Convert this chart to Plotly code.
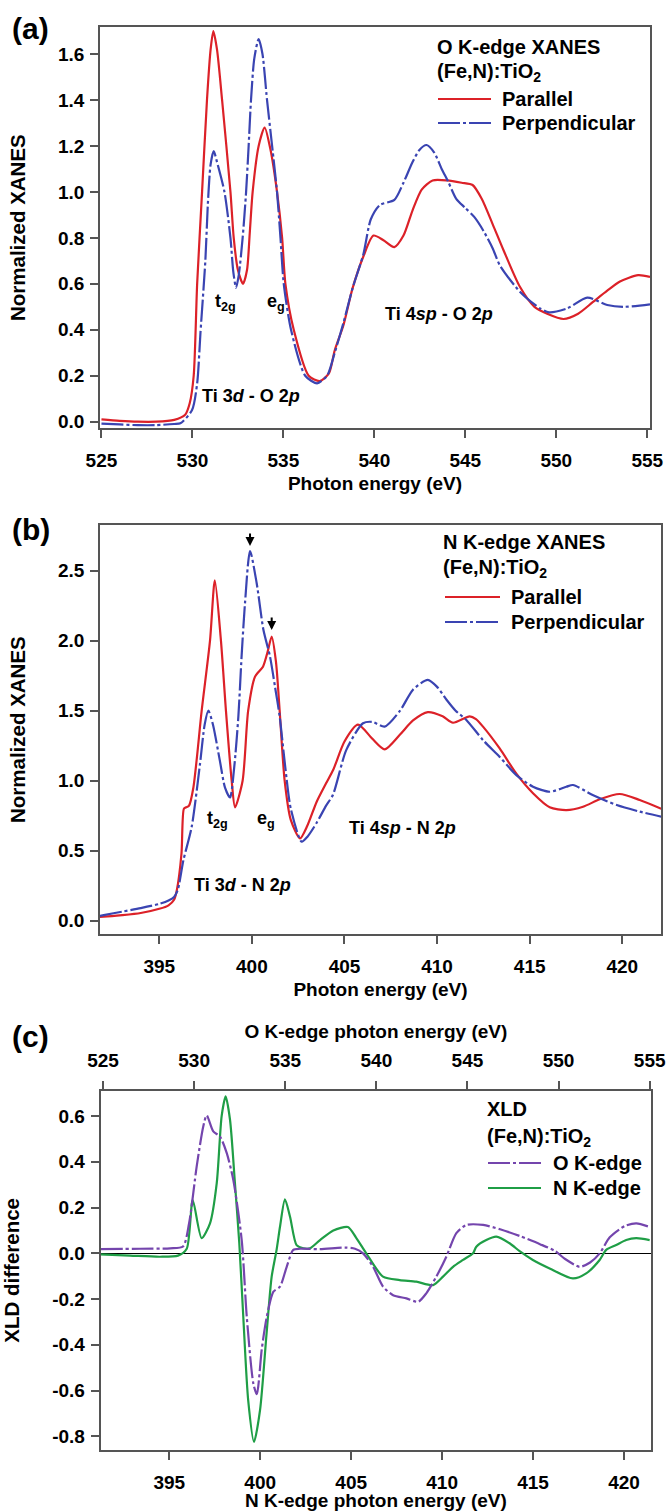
import plotly.graph_objects as go

# ---------------- data ----------------
# (a) O K-edge XANES
o_par_e = [525.0, 526.0, 527.0, 528.0, 529.0, 529.6, 529.85, 530.07, 530.26, 530.53, 530.8, 531.0, 531.15,
           531.35, 531.63, 532.09, 532.27, 532.5, 532.78, 533.0, 533.15, 533.31, 533.64, 533.97, 534.3,
           534.65, 534.93, 535.11, 535.57, 536.39, 537.0, 537.5, 537.82, 538.3, 538.8, 539.4, 539.95,
           540.5, 541.1, 541.6, 542.1, 542.6, 543.2, 544.0, 544.8, 545.4, 545.9, 546.5, 547.1, 548.0,
           548.8, 549.5, 550.4, 551.2, 552.0, 552.8, 553.5, 554.5, 555.15]
o_par_v = [0.010, 0.004, 0.0, 0.0, 0.008, 0.03, 0.08, 0.2, 0.6, 1.0, 1.4, 1.62, 1.70,
           1.62, 1.4, 1.0, 0.8, 0.66, 0.60, 0.66, 0.82, 1.0, 1.2, 1.28, 1.18,
           1.0, 0.8, 0.6, 0.4, 0.2, 0.177, 0.21, 0.31, 0.42, 0.58, 0.72, 0.81,
           0.79, 0.76, 0.81, 0.92, 1.01, 1.05, 1.05, 1.04, 1.03, 0.97, 0.86, 0.746, 0.587,
           0.50, 0.47, 0.447, 0.47, 0.52, 0.57, 0.61, 0.638, 0.63]
o_perp_e = [525.0, 526.0, 527.0, 528.0, 529.0, 529.34, 529.98, 530.26, 530.44, 530.71, 530.85, 531.0, 531.17,
            531.35, 531.76, 532.09, 532.25, 532.4, 532.55, 532.76, 532.95, 533.09, 533.22, 533.4, 533.64,
            533.85, 534.1, 534.38, 534.65, 534.84, 535.02, 535.42, 536.2, 536.85, 537.4, 537.82, 538.3,
            538.8, 539.4, 539.8, 540.3, 541.1, 541.6, 542.1, 542.5, 542.87, 543.3, 543.7, 544.06, 544.5,
            545.0, 545.5, 546.0, 546.5, 546.9, 548.0, 549.1, 549.6, 550.6, 551.7, 552.8, 553.7, 555.15]
o_perp_v = [-0.008, -0.012, -0.015, -0.015, -0.01, -0.007, 0.051, 0.167, 0.385, 0.7, 0.95, 1.12, 1.178,
            1.13, 1.0, 0.8, 0.65, 0.583, 0.64, 0.8, 1.0, 1.2, 1.4, 1.58, 1.665,
            1.6, 1.4, 1.2, 1.0, 0.8, 0.6, 0.4, 0.2, 0.167, 0.2, 0.30, 0.43,
            0.58, 0.73, 0.88, 0.943, 0.965, 1.04, 1.13, 1.185, 1.204, 1.17, 1.10, 1.044, 0.97,
            0.93, 0.89, 0.83, 0.755, 0.68, 0.566, 0.493, 0.476, 0.493, 0.54, 0.508, 0.50, 0.511]

# (b) N K-edge XANES
n_par_e = [391.8, 392.0, 393.0, 394.0, 395.0, 395.5, 395.8, 395.95, 396.2, 396.33, 396.45, 396.6, 396.84,
           397.29, 397.74, 398.0, 398.33, 398.6, 398.91, 399.09, 399.5, 399.8, 400.17, 400.6, 400.85,
           401.07, 401.3, 401.5, 401.77, 402.1, 402.6, 403.0, 403.5, 404.0, 404.4, 405.0, 405.73, 406.5,
           407.17, 408.0, 408.7, 409.5, 410.3, 410.86, 411.76, 412.1, 412.48, 413.38, 414.28, 415.18,
           416.08, 416.98, 417.88, 418.78, 419.86, 420.94, 422.1]
n_par_v = [0.028, 0.029, 0.04, 0.055, 0.085, 0.11, 0.15, 0.22, 0.48, 0.80, 0.81, 0.82, 0.95,
           1.5, 2.0, 2.43, 2.0, 1.5, 1.0, 0.81, 1.0, 1.5, 1.743, 1.814, 1.92,
           2.029, 1.85, 1.5, 1.0, 0.72, 0.588, 0.68, 0.85, 0.98, 1.08, 1.28, 1.40, 1.30,
           1.224, 1.33, 1.43, 1.49, 1.46, 1.414, 1.46, 1.44, 1.386, 1.23, 1.05, 0.91,
           0.81, 0.79, 0.814, 0.867, 0.905, 0.862, 0.80]
n_perp_e = [391.8, 392.0, 393.0, 394.0, 395.0, 395.5, 395.8, 396.0, 396.3, 396.75, 397.2, 397.45, 397.65,
            397.9, 398.28, 398.55, 398.82, 399.05, 399.27, 399.45, 399.63, 399.9, 400.26, 400.62, 400.98,
            401.25, 401.5, 401.8, 402.1, 402.69, 403.0, 403.5, 404.0, 404.38, 405.1, 406.0, 406.5, 407.17,
            408.0, 408.7, 409.5, 410.0, 410.5, 411.0, 411.58, 412.48, 413.38, 414.28, 415.18, 416.08,
            416.98, 417.34, 418.4, 419.7, 420.94, 422.1]
n_perp_v = [0.035, 0.04, 0.065, 0.09, 0.12, 0.145, 0.17, 0.22, 0.43, 0.67, 1.12, 1.40, 1.50,
            1.40, 1.136, 0.95, 0.88, 1.1, 1.457, 1.9, 2.27, 2.64, 2.41, 2.08, 1.886,
            1.67, 1.46, 1.1, 0.8, 0.564, 0.6, 0.70, 0.82, 0.90, 1.22, 1.41, 1.42, 1.386,
            1.50, 1.65, 1.72, 1.67, 1.58, 1.50, 1.434, 1.29, 1.17, 1.04, 0.957, 0.921,
            0.957, 0.969, 0.898, 0.826, 0.779, 0.743]

# (c) XLD difference
xld_o_e = [524.86, 527.03, 528.68, 529.39, 529.72, 530.14, 530.50, 530.69, 531.05, 531.42, 531.79, 532.15,
           532.61, 532.89, 533.25, 533.44, 533.71, 533.98, 534.35, 534.71, 535.08, 535.44, 535.81, 536.91,
           538.28, 538.83, 539.27, 539.82, 540.37, 540.92, 541.65, 542.29, 542.74, 543.29, 543.84, 544.39,
           544.94, 545.86, 546.79, 547.89, 548.98, 549.81, 550.36, 551.16, 551.73, 552.26, 552.81, 553.65,
           554.27, 555.01]
xld_o_v = [0.018, 0.02, 0.022, 0.03, 0.13, 0.38, 0.555, 0.603, 0.533, 0.51, 0.438, 0.32,
           0.058, -0.28, -0.57, -0.616, -0.42, -0.28, -0.168, -0.146, -0.059, 0.015, 0.02, 0.018,
           0.025, 0.02, 0.0, -0.059, -0.146, -0.183, -0.197, -0.212, -0.175, -0.102, -0.015, 0.088,
           0.124, 0.124, 0.105, 0.075, 0.04, 0.01, -0.025, -0.059, -0.04, 0.0, 0.07, 0.12,
           0.131, 0.115]
xld_n_e = [391.19, 392.84, 394.49, 395.48, 395.96, 396.29, 396.78, 397.24, 397.61, 397.88, 398.10, 398.34,
           398.61, 398.85, 399.07, 399.34, 399.66, 399.99, 400.35, 400.63, 400.90, 401.09, 401.36, 401.64,
           402.0, 402.37, 402.74, 403.29, 404.02, 404.82, 405.26, 405.83, 406.75, 407.67, 408.58, 409.5,
           410.05, 410.6, 411.15, 411.70, 411.88, 412.43, 412.98, 413.71, 414.28, 414.99, 415.91, 417.19,
           417.92, 418.66, 419.02, 419.57, 420.12, 420.67, 421.41]
xld_n_v = [-0.005, -0.01, -0.015, -0.01, 0.02, 0.233, 0.066, 0.131, 0.307, 0.6, 0.686, 0.584,
           0.307, 0.044, -0.278, -0.643, -0.825, -0.686, -0.35, -0.102, 0.015, 0.117, 0.236, 0.16,
           0.036, 0.022, 0.022, 0.058, 0.1, 0.115, 0.07, 0.0, -0.102, -0.117, -0.124, -0.139,
           -0.102, -0.059, -0.029, 0.0, 0.029, 0.058, 0.073, 0.044, 0.008, -0.029, -0.066, -0.11,
           -0.088, -0.029, 0.015, 0.036, 0.058, 0.066, 0.058]

# ticks
a_xticks = [525, 530, 535, 540, 545, 550, 555]
a_yticks = [0.0, 0.2, 0.4, 0.6, 0.8, 1.0, 1.2, 1.4, 1.6]
b_xticks = [395, 400, 405, 410, 415, 420]
b_yticks = [0.0, 0.5, 1.0, 1.5, 2.0, 2.5]
c_xticks_n = [395, 400, 405, 410, 415, 420]
c_xticks_o = [525, 530, 535, 540, 545, 550, 555]
c_yticks = [-0.8, -0.6, -0.4, -0.2, 0.0, 0.2, 0.4, 0.6]

# ---------------- style ----------------
W, H = 666, 1511
FONT = "Liberation Sans, Arial, sans-serif"
RED = "#dc2128"
BLUE = "#3a44b2"
PURPLE = "#7445ad"
GREEN = "#1f9e46"
AXC = "#555555"
DASH = "22px,3px,3px,3px"


def px_x(p):
    return p / W


def px_y(p):
    return 1 - p / H


def fmt(v):
    return f"{v:.1f}".replace("\u2212", "-")


fig = go.Figure()

line_common = dict(width=2.2, shape="spline", smoothing=0.7)
fig.add_trace(go.Scatter(x=o_par_e, y=o_par_v, mode="lines", name="Parallel",
                         line=dict(color=RED, **line_common), xaxis="x", yaxis="y"))
fig.add_trace(go.Scatter(x=o_perp_e, y=o_perp_v, mode="lines", name="Perpendicular",
                         line=dict(color=BLUE, dash=DASH, **line_common), xaxis="x", yaxis="y"))
fig.add_trace(go.Scatter(x=n_par_e, y=n_par_v, mode="lines", name="Parallel",
                         line=dict(color=RED, **line_common), xaxis="x2", yaxis="y2"))
fig.add_trace(go.Scatter(x=n_perp_e, y=n_perp_v, mode="lines", name="Perpendicular",
                         line=dict(color=BLUE, dash=DASH, **line_common), xaxis="x2", yaxis="y2"))
fig.add_trace(go.Scatter(x=xld_n_e, y=xld_n_v, mode="lines", name="N K-edge",
                         line=dict(color=GREEN, **line_common), xaxis="x3", yaxis="y3"))
fig.add_trace(go.Scatter(x=xld_o_e, y=xld_o_v, mode="lines", name="O K-edge",
                         line=dict(color=PURPLE, dash=DASH, **line_common), xaxis="x4", yaxis="y3"))

tickfont = dict(family=FONT, size=19, color="black", weight="bold")
titlefont = dict(family=FONT, size=19, color="black", weight="bold")
ytitlefont = dict(family=FONT, size=20.5, color="black", weight="bold")


def xax(domain, rng, ticks, title, anchor, side="bottom", mirror=True, standoff=7):
    return dict(domain=domain, range=rng, anchor=anchor, side=side,
                tickmode="array", tickvals=ticks, ticktext=[str(t) for t in ticks],
                ticks="outside", ticklen=8, tickwidth=1.5, tickcolor=AXC,
                showline=True, linecolor=AXC, linewidth=1.5, mirror=mirror,
                showgrid=False, zeroline=False, tickfont=tickfont, ticklabelstandoff=6,
                title=dict(text=title, font=titlefont, standoff=standoff), automargin=False)


def yax(domain, rng, ticks, title, anchor, zeroline=False):
    return dict(domain=domain, range=rng, anchor=anchor,
                tickmode="array", tickvals=ticks, ticktext=[fmt(t) for t in ticks],
                ticks="outside", ticklen=8, tickwidth=1.5, tickcolor=AXC,
                showline=True, linecolor=AXC, linewidth=1.5, mirror=True,
                showgrid=False, zeroline=zeroline, zerolinecolor="black", zerolinewidth=1,
                tickfont=tickfont, ticklabelstandoff=2,
                title=dict(text=title, font=ytitlefont, standoff=27), automargin=False)


dom_a_x = [px_x(100), px_x(650)]
dom_b_x = [px_x(100), px_x(661)]
dom_c_x = [px_x(100.5), px_x(651.3)]

fig.update_layout(
    width=W, height=H, margin=dict(l=0, r=0, t=0, b=0),
    template="none", paper_bgcolor="white", plot_bgcolor="white", showlegend=False,
    xaxis=xax(dom_a_x, [524.92, 555.15], a_xticks, "Photon energy (eV)", "y"),
    yaxis=yax([px_y(428.3), px_y(27)], [-0.0287, 1.7176], a_yticks, "Normalized XANES", "x"),
    xaxis2=xax(dom_b_x, [391.80, 422.09], b_xticks, "Photon energy (eV)", "y2"),
    yaxis2=yax([px_y(934.3), px_y(525)], [-0.097, 2.826], b_yticks, "Normalized XANES", "x2"),
    xaxis3=xax(dom_c_x, [391.22, 421.50], c_xticks_n, "N K-edge photon energy (eV)", "y3", mirror=False),
    xaxis4=dict(xax(dom_c_x, [524.86, 555.09], c_xticks_o, "O K-edge photon energy (eV)", "y3",
                    side="top", mirror=False), overlaying="x3"),
    yaxis3=yax([px_y(1450), px_y(1090.7)], [-0.860, 0.711], c_yticks, "XLD difference", "x3", zeroline=True),
)

ann = []
shapes = []


def text_px(x, y, t, size=20, xanchor="left"):
    ann.append(dict(x=px_x(x), y=px_y(y), xref="paper", yref="paper", text=t, showarrow=False,
                    xanchor=xanchor, yanchor="middle",
                    font=dict(family=FONT, size=size, color="black", weight="bold")))


def legline(x0, x1, y, color, dash=None):
    shapes.append(dict(type="line", xref="paper", yref="paper", x0=px_x(x0), x1=px_x(x1),
                       y0=px_y(y), y1=px_y(y),
                       line=dict(color=color, width=2.2, dash=dash if dash else "solid")))


# panel labels
text_px(10, 29, "(a)", size=30)
text_px(10, 530, "(b)", size=30)
text_px(10, 1036, "(c)", size=30)

# legends
text_px(435, 47, "O K-edge XANES")
text_px(435, 73, "(Fe,N):TiO<sub>2</sub>")
legline(438, 491, 99, RED)
legline(438, 491, 123, BLUE, DASH)
text_px(500, 99, "Parallel")
text_px(500, 123, "Perpendicular")

text_px(441, 542, "N K-edge XANES")
text_px(441, 568, "(Fe,N):TiO<sub>2</sub>")
legline(445, 500, 597, RED)
legline(445, 500, 622, BLUE, DASH)
text_px(509, 597, "Parallel")
text_px(509, 622, "Perpendicular")

text_px(485, 1109, "XLD")
text_px(485, 1137, "(Fe,N):TiO<sub>2</sub>")
legline(488, 541, 1163, PURPLE, DASH)
legline(488, 541, 1188, GREEN)
text_px(551, 1163, "O K-edge")
text_px(551, 1188, "N K-edge")


def text_data(x, y, t, xr, yr, size=18):
    ann.append(dict(x=x, y=y, xref=xr, yref=yr, text=t, showarrow=False, xanchor="left",
                    yanchor="middle", font=dict(family=FONT, size=size, color="black", weight="bold")))


text_data(531.15, 0.52, "t<sub>2g</sub>", "x", "y")
text_data(534.0, 0.52, "e<sub>g</sub>", "x", "y")
text_data(530.44, 0.112, "Ti 3<i>d</i> - O 2<i>p</i>", "x", "y")
text_data(540.5, 0.47, "Ti 4<i>sp</i> - O 2<i>p</i>", "x", "y")

text_data(397.47, 0.72, "t<sub>2g</sub>", "x2", "y2")
text_data(400.17, 0.72, "e<sub>g</sub>", "x2", "y2")
text_data(396.77, 0.256, "Ti 3<i>d</i> - N 2<i>p</i>", "x2", "y2")
text_data(405.16, 0.66, "Ti 4<i>sp</i> - N 2<i>p</i>", "x2", "y2")

# arrows in (b)
for ax_, ay_ in [(399.9, 2.676), (401.07, 2.076)]:
    ann.append(dict(x=ax_, y=ay_, xref="x2", yref="y2", text="", showarrow=True, ax=0, ay=-14,
                    arrowhead=2, arrowsize=0.9, arrowwidth=2, arrowcolor="black"))

fig.update_layout(annotations=ann, shapes=shapes)
fig.write_html("out.html")
